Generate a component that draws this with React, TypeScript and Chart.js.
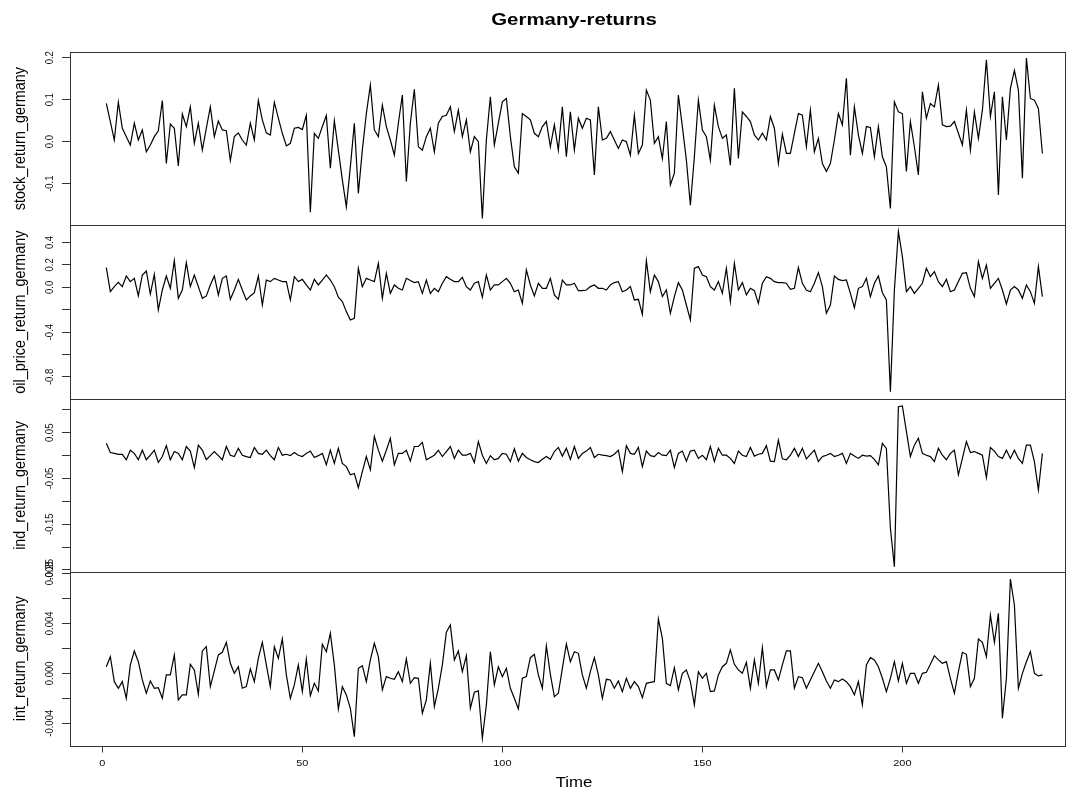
import React, { useEffect, useRef } from 'react';
import { Chart, registerables } from 'chart.js';

Chart.register(...registerables);

const TITLE = 'Germany-returns';
const X_TITLE = 'Time';

const stockReturn = [
  0.091, 0.048, 0.004, 0.094, 0.032, 0.012, -0.008, 0.044, 0.004, 0.028,
  -0.024, -0.008, 0.012, 0.026, 0.098, -0.052, 0.042, 0.032, -0.058, 0.066,
  0.036, 0.083, -0.004, 0.044, -0.020, 0.032, 0.083, 0.012, 0.049, 0.028,
  0.026, -0.045, 0.012, 0.021, 0.004, -0.008, 0.044, 0.004, 0.098, 0.052,
  0.021, 0.016, 0.094, 0.056, 0.020, -0.010, -0.004, 0.032, 0.034, 0.029,
  0.063, -0.168, 0.020, 0.008, 0.036, 0.062, -0.063, 0.050, -0.020, -0.091,
  -0.155, -0.060, 0.044, -0.123, -0.020, 0.067, 0.135, 0.028, 0.012, 0.087,
  0.036, 0.004, -0.032, 0.044, 0.111, -0.095, 0.044, 0.125, -0.012, -0.020,
  0.012, 0.032, -0.024, 0.044, 0.060, 0.063, 0.083, 0.024, 0.075, 0.012,
  0.052, -0.024, 0.012, 0.000, -0.183, 0.004, 0.107, -0.008, 0.044, 0.095,
  0.103, 0.012, -0.060, -0.075, 0.067, 0.060, 0.052, 0.020, 0.012, 0.036,
  0.048, -0.012, 0.040, -0.020, 0.083, -0.036, 0.071, -0.020, 0.056, 0.032,
  0.056, 0.052, -0.079, 0.083, 0.004, 0.008, 0.024, 0.004, -0.016, 0.004,
  0.000, -0.032, 0.063, -0.028, -0.008, 0.123, 0.099, -0.004, 0.012, -0.040,
  0.048, -0.103, -0.075, 0.111, 0.036, -0.044, -0.151, -0.036, 0.099, 0.028,
  0.012, -0.044, 0.087, 0.036, 0.008, 0.016, -0.056, 0.127, -0.040, 0.071,
  0.060, 0.048, 0.016, 0.004, 0.020, 0.004, 0.060, 0.032, -0.052, 0.018,
  -0.028, -0.028, 0.020, 0.067, 0.063, -0.012, 0.075, -0.024, 0.008, -0.052,
  -0.071, -0.052, 0.004, 0.067, 0.040, 0.151, -0.032, 0.083, 0.016, -0.028,
  0.036, 0.034, -0.036, 0.036, -0.036, -0.060, -0.159, 0.095, 0.071, 0.067,
  -0.071, 0.048, -0.012, -0.079, 0.119, 0.056, 0.091, 0.083, 0.135, 0.040,
  0.036, 0.037, 0.048, 0.020, -0.008, 0.075, -0.020, 0.071, 0.008, 0.075,
  0.195, 0.060, 0.119, -0.127, 0.107, 0.004, 0.127, 0.170, 0.123, -0.087,
  0.199, 0.103, 0.099, 0.079, -0.028,
];

const oilPriceReturn = [
  0.176, -0.039, 0.006, 0.045, 0.006, 0.101, 0.051, 0.080, -0.077, 0.110,
  0.146, -0.060, 0.116, -0.202, -0.024, 0.101, -0.009, 0.238, -0.098, -0.024,
  0.220, 0.006, 0.110, 0.006, -0.098, -0.077, 0.021, 0.101, -0.068, 0.080,
  0.101, -0.107, -0.024, 0.071, -0.024, -0.113, -0.077, -0.048, 0.101, -0.158,
  0.065, 0.051, 0.080, 0.065, 0.051, 0.051, -0.113, 0.095, 0.051, 0.071,
  0.021, -0.024, 0.071, 0.021, 0.065, 0.110, 0.065, 0.006, -0.089, -0.128,
  -0.217, -0.292, -0.277, 0.170, 0.006, 0.080, 0.065, 0.051, 0.214, -0.098,
  0.125, -0.054, 0.021, -0.009, -0.024, 0.080, 0.060, 0.042, 0.051, -0.054,
  0.065, -0.054, -0.009, -0.039, 0.036, 0.095, 0.071, 0.051, 0.051, 0.089,
  0.006, -0.024, 0.036, 0.051, -0.089, 0.110, -0.024, 0.021, 0.021, 0.051,
  0.080, 0.036, -0.039, -0.024, -0.143, 0.155, 0.021, -0.077, 0.036, -0.009,
  -0.009, 0.080, -0.068, -0.107, 0.065, 0.021, 0.021, 0.036, -0.030, -0.030,
  -0.024, 0.006, 0.021, -0.009, -0.009, -0.024, 0.021, 0.042, 0.051, -0.039,
  -0.024, 0.006, -0.113, -0.107, -0.241, 0.238, -0.039, 0.110, 0.051, -0.083,
  -0.024, -0.232, -0.083, 0.042, -0.024, -0.158, -0.292, 0.170, 0.185, 0.110,
  0.095, 0.006, -0.024, 0.051, -0.054, 0.170, -0.128, 0.214, -0.024, 0.042,
  -0.068, -0.009, -0.030, -0.143, 0.036, 0.095, 0.080, 0.051, 0.042, 0.042,
  0.036, -0.018, -0.009, 0.176, 0.036, -0.024, -0.039, 0.036, 0.131, 0.006,
  -0.232, -0.158, 0.101, 0.071, 0.060, 0.065, -0.054, -0.182, -0.009, 0.006,
  0.080, -0.083, 0.036, 0.101, -0.048, -0.113, -0.932, -0.024, 0.497, 0.274,
  -0.039, 0.006, -0.054, -0.009, 0.036, 0.170, 0.095, 0.140, 0.051, 0.006,
  0.071, -0.039, -0.024, 0.051, 0.125, 0.131, -0.009, -0.083, 0.229, 0.080,
  0.199, -0.009, 0.036, 0.080, -0.024, -0.149, -0.024, 0.006, -0.024, -0.098,
  0.021, -0.039, -0.143, 0.185, -0.083,
];

const indReturn = [
  0.027, 0.007, 0.005, 0.003, 0.003, -0.009, 0.012, 0.005, -0.009, 0.012,
  -0.009, 0.001, 0.012, -0.015, -0.002, 0.022, -0.009, 0.009, 0.005, -0.009,
  0.020, 0.010, -0.026, 0.023, 0.012, -0.009, 0.000, 0.009, 0.000, -0.009,
  0.020, 0.001, -0.002, 0.016, 0.001, -0.002, -0.004, 0.018, 0.005, 0.003,
  0.012, 0.000, -0.009, 0.018, 0.001, 0.003, 0.000, 0.007, 0.001, -0.002,
  0.005, 0.010, -0.004, 0.000, 0.005, -0.020, 0.012, -0.017, 0.016, -0.017,
  -0.024, -0.042, -0.039, -0.070, -0.035, -0.002, -0.031, 0.042, 0.012, -0.012,
  0.012, 0.038, -0.020, 0.005, 0.005, 0.012, -0.012, 0.020, 0.020, 0.029,
  -0.009, -0.004, 0.001, 0.012, -0.002, 0.009, 0.020, -0.006, 0.012, 0.001,
  0.001, 0.005, -0.015, 0.031, 0.001, -0.017, 0.000, -0.009, -0.006, 0.005,
  0.003, -0.013, 0.015, -0.012, 0.005, -0.004, -0.009, -0.013, -0.015, -0.008,
  -0.002, -0.008, 0.009, 0.018, -0.001, 0.016, -0.008, 0.020, -0.006, 0.005,
  0.010, 0.018, -0.004, 0.003, 0.001, 0.000, -0.002, 0.003, 0.012, -0.035,
  0.022, 0.005, 0.003, 0.018, -0.024, 0.010, 0.000, -0.002, 0.007, 0.001,
  0.000, 0.012, -0.026, 0.005, 0.010, -0.012, 0.010, 0.012, -0.006, 0.001,
  -0.009, 0.020, -0.013, 0.016, 0.001, 0.001, -0.006, -0.017, 0.010, 0.001,
  -0.002, 0.018, -0.001, 0.003, 0.005, 0.022, -0.012, -0.013, 0.034, -0.007,
  -0.009, 0.001, 0.016, -0.002, 0.016, -0.007, 0.003, 0.012, -0.013, -0.002,
  0.001, 0.005, -0.002, 0.001, 0.005, -0.017, 0.005, -0.001, -0.006, 0.001,
  -0.001, 0.000, -0.008, -0.020, 0.027, 0.016, -0.159, -0.243, 0.107, 0.109,
  0.053, -0.002, 0.023, 0.038, 0.005, 0.001, -0.002, -0.013, 0.016, 0.001,
  -0.009, 0.005, 0.012, -0.042, -0.006, 0.031, 0.007, 0.009, 0.005, 0.001,
  -0.048, 0.018, 0.010, -0.002, -0.006, 0.012, -0.006, 0.012, -0.006, -0.017,
  0.023, 0.023, -0.013, -0.075, 0.005,
];

const intReturn = [
  0.00053, 0.00133, -0.00067, -0.0012, -0.00067, -0.002, 0.00067, 0.00179, 0.00093, -0.00053,
  -0.0016, -0.00061, -0.0012, -0.00115, -0.002, -0.00013, -0.00013, 0.00147, -0.00213, -0.00173,
  -0.00173, 0.00072, 0.00027, -0.00168, 0.00179, 0.00213, -0.00107, 0.00019, 0.00147, 0.00168,
  0.00248, 0.0008, 0.0, 0.00053, -0.0012, -0.00107, 0.00035, -0.00067, 0.0012, 0.00248,
  0.00067, -0.00107, 0.00213, 0.0012, 0.00275, -0.00013, -0.002, -0.00093, 0.00067, -0.00147,
  0.00115, -0.00179, -0.0008, -0.00141, 0.00232, 0.00173, 0.0032, 0.00067, -0.00285, -0.00107,
  -0.00173, -0.0028, -0.00507, 0.0004, 0.00061, -0.00067, 0.00107, 0.0024, 0.00133, -0.00133,
  -0.00027, -0.0004, -0.00048, 0.00013, -0.00067, 0.00115, -0.0008, -0.00035, -0.0004, -0.0032,
  -0.00213, 0.0008, -0.00267, -0.0012, 0.00067, 0.0033, 0.00387, 0.00107, 0.00179, 0.00013,
  0.00141, -0.0028, -0.00152, -0.00141, -0.0052, -0.00253, 0.00173, -0.00093, 0.00053, -0.00027,
  0.0004, -0.0012, -0.002, -0.00285, -0.0004, -0.00027, 0.00125, 0.00152, -0.00013, -0.0012,
  0.00219, -0.00008, -0.00187, -0.0016, 0.0004, 0.00235, 0.00093, 0.00173, 0.0016, -0.00013,
  -0.0012, 0.00013, 0.00125, -0.00013, -0.002, -0.00048, -0.00053, -0.0012, -0.00061, -0.00147,
  -0.0004, -0.0012, -0.00067, -0.00107, -0.00195, -0.0008, -0.00072, -0.00067, 0.00435, 0.0028,
  -0.0008, -0.00099, 0.00045, -0.00133, 0.0, 0.00027, -0.00067, -0.00253, 0.00013, -0.0004,
  0.0, -0.00147, -0.00141, -0.00013, 0.00053, 0.0008, 0.00187, 0.00072, 0.00027, 0.0,
  0.00088, -0.0012, 0.00107, -0.0008, 0.00205, -0.00107, 0.00027, 0.00027, -0.00053, 0.00067,
  0.00179, 0.00179, -0.0012, -0.00027, -0.00035, -0.0012, -0.00053, 0.00013, 0.0008, 0.00013,
  -0.00061, -0.0012, -0.00053, -0.00067, -0.00045, -0.00067, -0.00107, -0.00173, -0.00067, -0.00253,
  0.00067, 0.00125, 0.00107, 0.00053, -0.0004, -0.00147, -0.0004, 0.00093, -0.00061, 0.0008,
  -0.0008, 0.0, 0.0, -0.0008, 0.0, 0.00008, 0.00072, 0.00141, 0.00107, 0.0008,
  0.00093, -0.0004, -0.0016, 0.00013, 0.00168, 0.00152, -0.00107, -0.0004, 0.00275, 0.00248,
  0.00133, 0.00467, 0.00248, 0.0048, -0.0036, -0.0004, 0.00755, 0.00547, -0.0012, 0.0,
  0.00093, 0.00173, 0.0, -0.00021, -0.00013,
];

// time index of the series (1 .. n)
const timeIndex = stockReturn.map((_, i) => i + 1);

const xTicks = [0, 50, 100, 150, 200];
const xTickLabels = ['0', '50', '100', '150', '200'];

const stockTicks = [-0.1, 0, 0.1, 0.2];
const stockTickLabels = ['-0.1', '0.0', '0.1', '0.2'];

const oilTicks = [-0.8, -0.6, -0.4, -0.2, 0, 0.2, 0.4];
const oilTickLabels = ['-0.8', '', '-0.4', '', '0.0', '0.2', '0.4'];

const indTicks = [-0.25, -0.2, -0.15, -0.1, -0.05, 0, 0.05, 0.1];
const indTickLabels = ['-0.25', '', '-0.15', '', '-0.05', '', '0.05', ''];

const intTicks = [-0.004, -0.002, 0, 0.002, 0.004, 0.006, 0.008];
const intTickLabels = ['-0.004', '', '0.000', '', '0.004', '', '0.008'];

const panels = [
  { id: 'yStock', name: 'stock_return_germany', values: stockReturn, ticks: stockTicks, labels: stockTickLabels, min: -0.1993, max: 0.2136 },
  { id: 'yOil', name: 'oil_price_return_germany', values: oilPriceReturn, ticks: oilTicks, labels: oilTickLabels, min: -0.995, max: 0.553 },
  { id: 'yInd', name: 'ind_return_germany', values: indReturn, ticks: indTicks, labels: indTickLabels, min: -0.255, max: 0.1246 },
  { id: 'yInt', name: 'int_return_germany', values: intReturn, ticks: intTicks, labels: intTickLabels, min: -0.00578, max: 0.0081 },
];

const FAMILY = '"Liberation Sans", Arial, Helvetica, sans-serif';

function drawText(ctx: CanvasRenderingContext2D, s: string, x: number, y: number, font: string, rotate: boolean, sx: number, color = '#000') {
  ctx.save();
  ctx.translate(x, y);
  ctx.scale(sx, 1);
  if (rotate) ctx.rotate(-Math.PI / 2);
  ctx.font = font;
  ctx.fillStyle = color;
  ctx.textAlign = 'center';
  ctx.textBaseline = 'middle';
  ctx.fillText(s, 0, 0);
  ctx.restore();
}

const rStylePlugin = {
  id: 'rStyle',
  afterDatasetsDraw(chart: any) {
    const { ctx, chartArea } = chart;
    ctx.save();
    ctx.strokeStyle = '#333';
    ctx.lineWidth = 1;
    const l = Math.round(chartArea.left) + 0.5;
    const r = Math.round(chartArea.right) - 0.5;
    panels.forEach((p) => {
      const s = chart.scales[p.id];
      const t = Math.round(s.top) + 0.5;
      const b = Math.round(s.bottom) + 0.5;
      ctx.strokeRect(l, t, r - l, b - t);
    });
    ctx.restore();
  },
  afterDraw(chart: any) {
    const { ctx, scales } = chart;
    drawText(ctx, TITLE, 574, 20, `bold 17px ${FAMILY}`, false, 1.2);
    drawText(ctx, X_TITLE, 574, 783, `14px ${FAMILY}`, false, 1.2);
    xTicks.forEach((v, k) => {
      drawText(ctx, xTickLabels[k], scales.x.getPixelForValue(v), 763.5, `9.5px ${FAMILY}`, false, 1.15, '#111');
    });
    panels.forEach((p) => {
      const s = scales[p.id];
      drawText(ctx, p.name, 21, (s.top + s.bottom) / 2, `14.4px ${FAMILY}`, true, 1.1);
      p.ticks.forEach((v, k) => {
        const lab = p.labels[k];
        if (lab) drawText(ctx, lab, 49.5, s.getPixelForValue(v), `9.5px ${FAMILY}`, true, 1.2, '#111');
      });
    });
  },
};

export default function App() {
  const canvasRef = useRef<HTMLCanvasElement | null>(null);

  useEffect(() => {
    const canvas = canvasRef.current;
    if (!canvas) return;

    const scales: any = {
      x: {
        type: 'linear',
        position: 'bottom',
        min: -8.08,
        max: 240.9,
        afterBuildTicks: (s: any) => { s.ticks = xTicks.map((v) => ({ value: v })); },
        afterFit: (s: any) => { s.height = 46.5; },
        grid: { drawOnChartArea: false, drawTicks: true, tickLength: 7, color: '#333', lineWidth: 1 },
        border: { display: false },
        ticks: { display: false },
      },
    };
    // defined bottom-to-top: the stacked left layout places the last one on top
    [...panels].reverse().forEach((p) => {
      scales[p.id] = {
        type: 'linear',
        position: 'left',
        stack: 'panels',
        stackWeight: 1,
        min: p.min,
        max: p.max,
        afterBuildTicks: (s: any) => { s.ticks = p.ticks.map((v) => ({ value: v })); },
        afterFit: (s: any) => { s.width = 70; },
        grid: { drawOnChartArea: false, drawTicks: true, tickLength: 8, color: '#333', lineWidth: 1 },
        border: { display: false },
        ticks: { display: false },
      };
    });

    const chart = new Chart(canvas, {
      type: 'line',
      data: {
        datasets: panels.map((p) => ({
          label: p.name,
          data: p.values.map((v, i) => ({ x: timeIndex[i], y: v })),
          xAxisID: 'x',
          yAxisID: p.id,
          borderColor: '#000',
          borderWidth: 1.2,
          pointRadius: 0,
          tension: 0,
          fill: false,
        })),
      },
      options: {
        responsive: false,
        animation: false,
        devicePixelRatio: 1,
        layout: { padding: { top: 52, right: 1, bottom: 0, left: 0 } },
        scales,
        plugins: {
          legend: { display: false },
          tooltip: { enabled: false },
          title: { display: false },
        },
      },
      plugins: [rStylePlugin],
    });

    return () => chart.destroy();
  }, []);

  return (
    <div style={{ position: 'absolute', left: 0, top: 0, width: 1067, height: 792, background: '#fff' }}>
      <canvas ref={canvasRef} width={1067} height={792} style={{ display: 'block' }} />
    </div>
  );
}
